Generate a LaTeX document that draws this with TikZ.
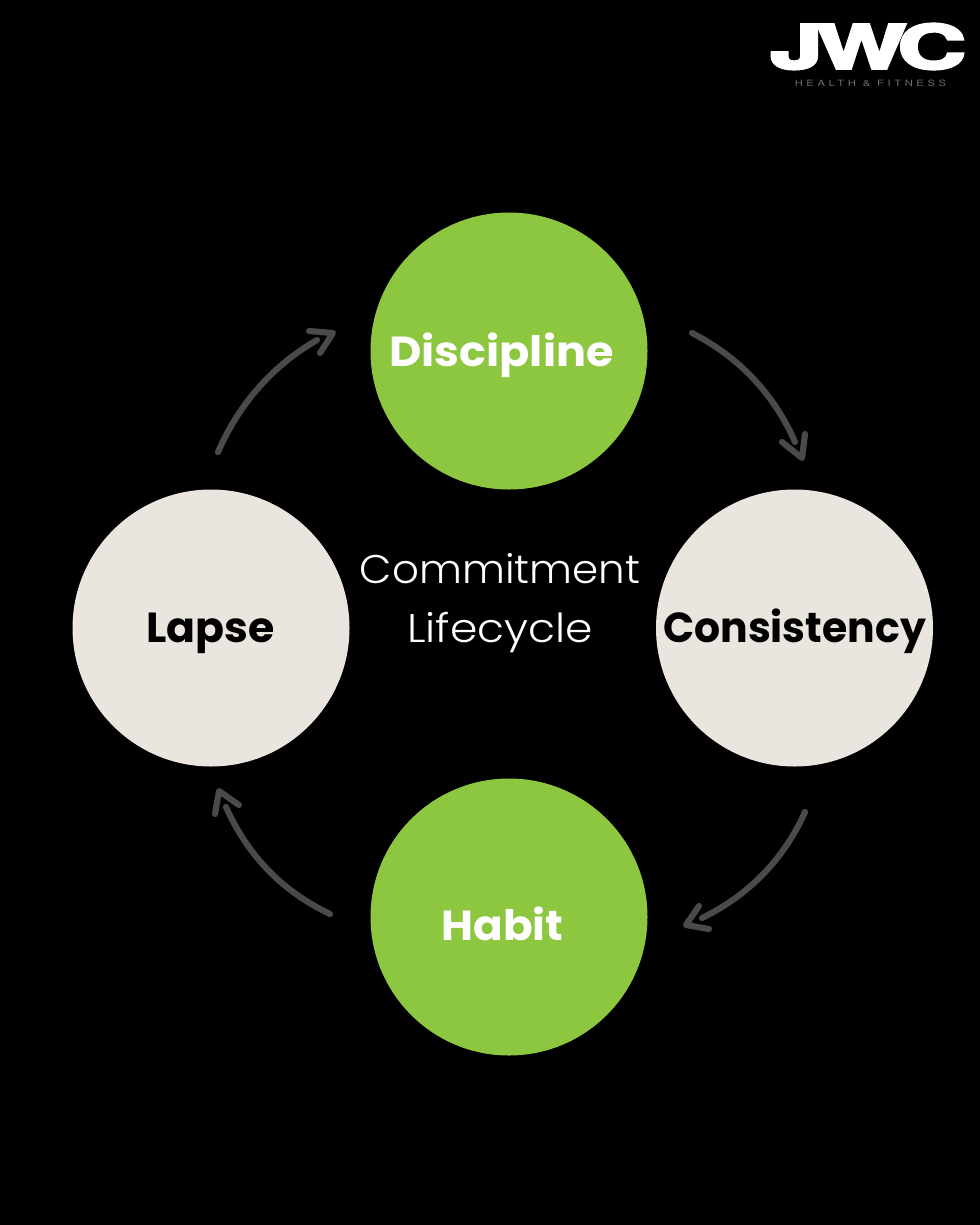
\documentclass[tikz,border=0pt]{standalone}
\usepackage{fontspec}
\setmainfont{Poppins}
\newfontfamily\thin{Poppins Light}
\newfontfamily\logo{TeX Gyre Heros}[FakeBold=4]
\newfontfamily\sub{TeX Gyre Heros}[LetterSpace=32]
\definecolor{grn}{HTML}{8DC63F}
\definecolor{stone}{HTML}{EAE5DF}
\definecolor{arr}{HTML}{4A4A4A}
\definecolor{subc}{HTML}{6E6E66}
\tikzset{
 stage/.style={circle,minimum size=207.75pt,inner sep=0pt},
 greenstage/.style={stage,fill=grn},
 stonestage/.style={stage,fill=stone},
 stagetext/.style={inner sep=0pt,font=\fontsize{31.5}{36}\selectfont\bfseries},
 flow/.style={draw=arr,line width=4.6pt,line cap=round,line join=round},
}
\begin{document}
\begin{tikzpicture}[x=0.75pt,y=-0.75pt]
\path[use as bounding box,fill=black] (0,0) rectangle (980,1225);
\node[greenstage] (d) at (509,351) {};
\node[stonestage] (c) at (794.5,628) {};
\node[greenstage] (h) at (509,917) {};
\node[stonestage] (l) at (211,628) {};
\node[stagetext,text=white,xscale=1.06] (dt) at (501.5,355) {Discipline};
\node[stagetext,text=black,xscale=0.975] (ct) at (794.5,631) {Consistency};
\node[stagetext,text=white,xscale=1.04] (ht) at (502.5,924) {Habit};
\node[stagetext,text=black,xscale=1.015] (lt) at (210.5,633) {Lapse};
\node[text=white,align=center,font=\thin\fontsize{30}{44}\selectfont] (t) at (500,603) {\scalebox{1.05}[1]{Commitment}\\\scalebox{1.1}[1]{Lifecycle}};
\coordinate (a1) at (692,333); \coordinate (a2) at (795,442); \coordinate (at) at (802,458); \coordinate (aa) at (782,442); \coordinate (ab) at (805,434);
\coordinate (b1) at (805,812); \coordinate (b2) at (702,918); \coordinate (bt) at (686,925); \coordinate (ba) at (699,906); \coordinate (bb) at (709,929);
\coordinate (c1) at (330,914); \coordinate (c2) at (226,807); \coordinate (ct2) at (219,791); \coordinate (ca) at (215,814); \coordinate (cb) at (239,805);
\coordinate (e1) at (218,452); \coordinate (e2) at (317,340); \coordinate (et) at (333,333); \coordinate (ea) at (309,331); \coordinate (eb) at (320,353);
\draw[flow] (a1) .. controls (739,357) and (774,394) .. (a2);
\draw[flow] (aa) -- (at) -- (ab);
\draw[flow] (b1) .. controls (784,859) and (749,895) .. (b2);
\draw[flow] (ba) -- (bt) -- (bb);
\draw[flow] (c1) .. controls (282,891) and (248,856) .. (c2);
\draw[flow] (ca) -- (ct2) -- (cb);
\draw[flow] (e1) .. controls (239,404) and (272,366) .. (e2);
\draw[flow] (ea) -- (et) -- (eb);
\node[text=white,inner sep=0pt,font=\logo\bfseries\fontsize{45.5}{46}\selectfont,xscale=1.56] (j) at (868,46.5) {J\kern-3ptW\kern-4ptC};
\node[text=subc,inner sep=0pt,font=\sub\fontsize{6.5}{7}\selectfont,xscale=1.3] (s) at (870.5,83) {HEALTH \& FITNESS};
\end{tikzpicture}
\end{document}
